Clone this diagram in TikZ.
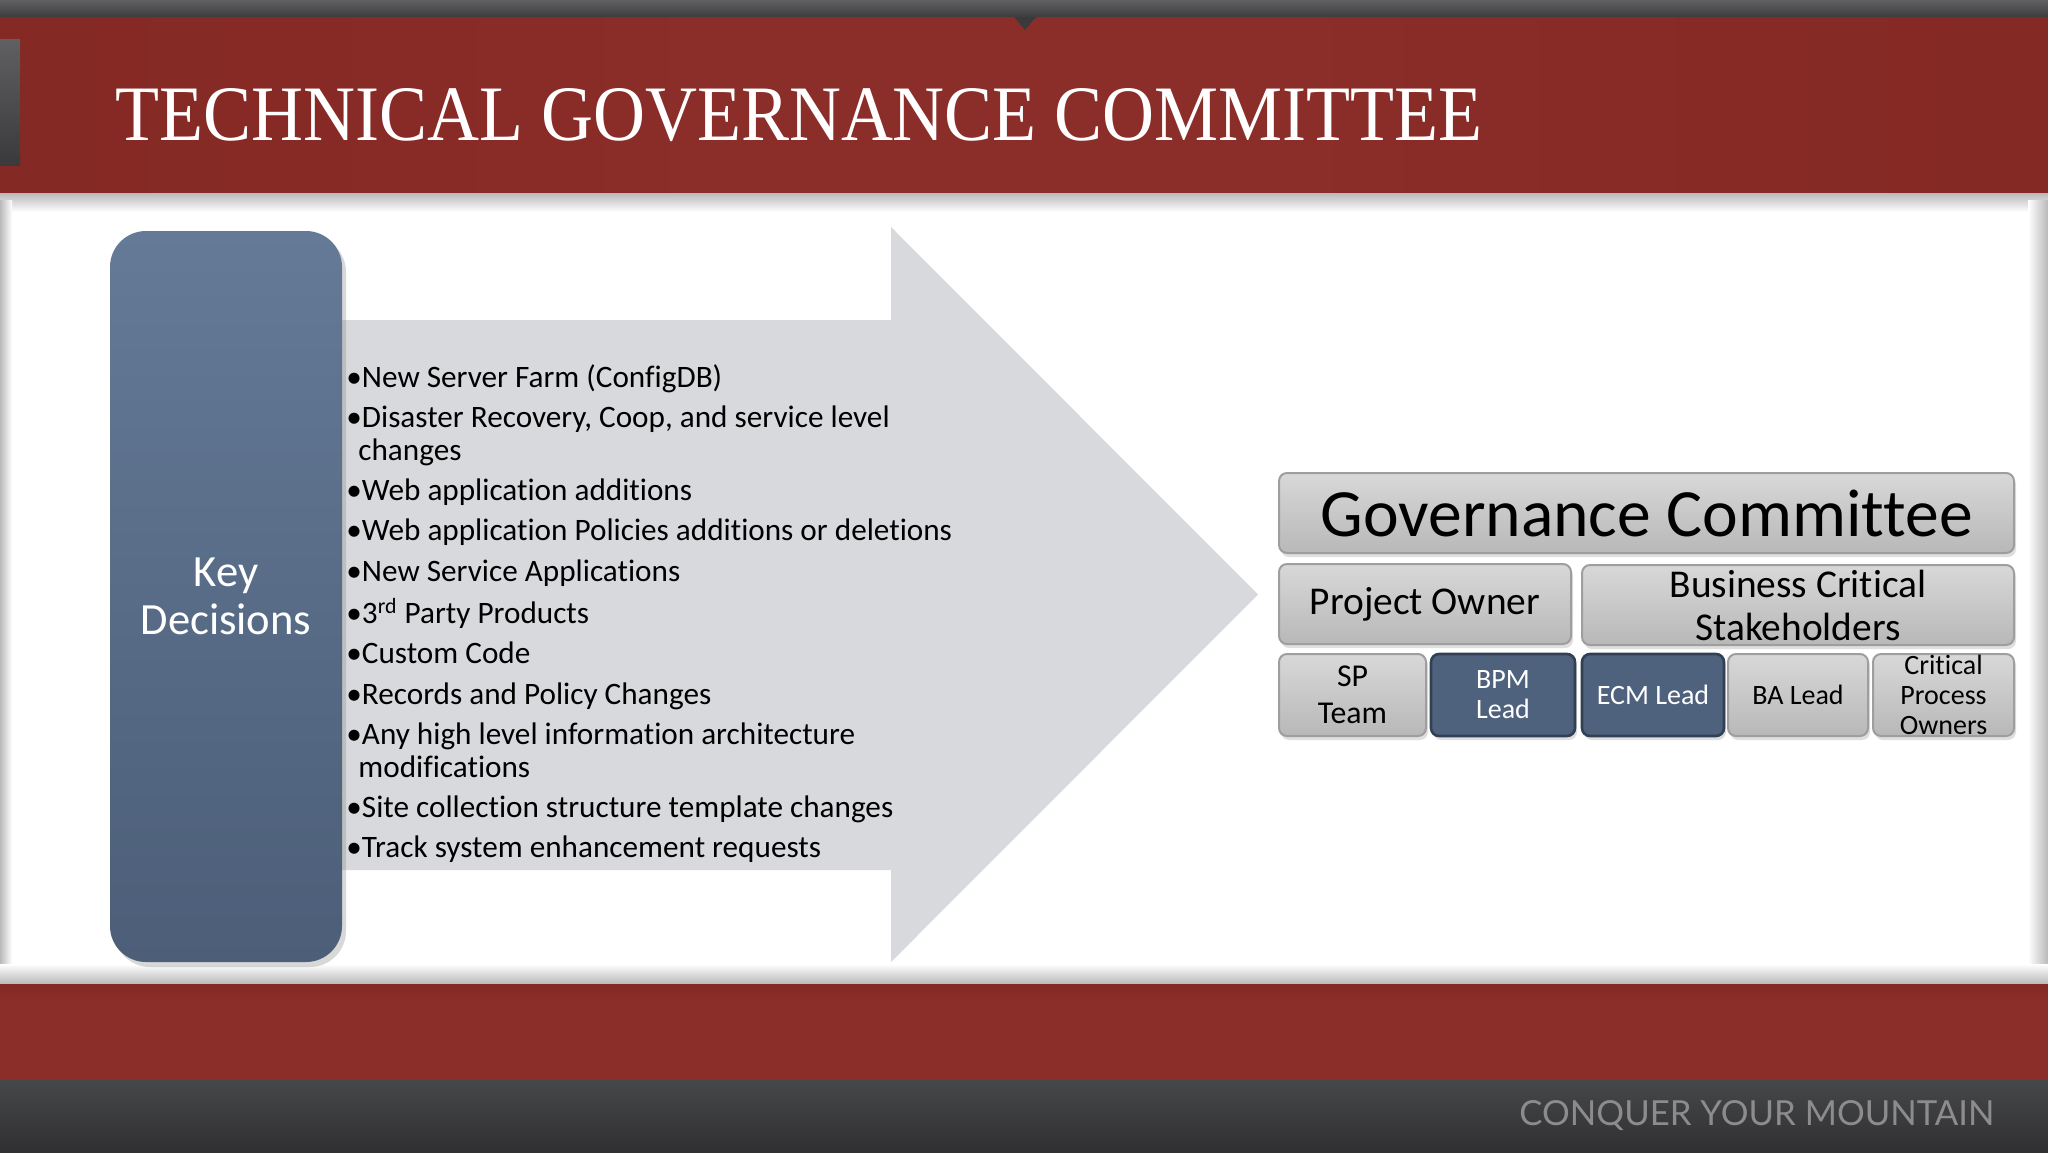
\documentclass[tikz,border=0pt]{standalone}
\usepackage{fontspec}
\setmainfont{Carlito}[Ligatures=NoCommon]
\newfontfamily\titlefont{Liberation Serif}
\newfontfamily\tagfont{Lato}
\usetikzlibrary{shadows}
\definecolor{redband}{RGB}{139,45,40}
\definecolor{reddark}{RGB}{128,38,34}
\definecolor{topgray}{RGB}{96,96,98}
\definecolor{topdark}{RGB}{58,58,60}
\definecolor{botgray1}{RGB}{70,71,73}
\definecolor{botgray2}{RGB}{48,48,50}
\definecolor{arrowgray}{RGB}{216,217,220}
\definecolor{kdtop}{RGB}{100,122,150}
\definecolor{kdbot}{RGB}{76,94,120}
\definecolor{gtop}{RGB}{216,216,216}
\definecolor{gbot}{RGB}{184,184,184}
\definecolor{gedge}{RGB}{158,158,158}
\definecolor{dfill}{RGB}{78,98,125}
\definecolor{dedge}{RGB}{50,64,84}
\definecolor{tagc}{RGB}{140,140,142}
\definecolor{edgeshade}{RGB}{185,185,187}
\begin{document}
\begin{tikzpicture}[x=0.5pt,y=-0.5pt,
  graybox/.style={draw=gedge, line width=1pt, rounded corners=4pt,
    top color=gtop, bottom color=gbot, inner sep=0pt, align=center, text=black,
    drop shadow={opacity=0.25, shadow xshift=1pt, shadow yshift=-2pt}},
  darkbox/.style={draw=dedge, line width=1.3pt, rounded corners=4pt,
    fill=dfill, inner sep=0pt, align=center, text=white,
    drop shadow={opacity=0.25, shadow xshift=1pt, shadow yshift=-2pt}},
  rowthree/.style={minimum width=#1, minimum height=41pt,
    font=\fontsize{14pt}{15pt}\selectfont},
  keybox/.style={rounded corners=18pt, top color=kdtop, bottom color=kdbot,
    text=white, align=center, inner sep=0pt,
    font=\fontsize{22.3pt}{24.25pt}\selectfont,
    drop shadow={opacity=0.3, shadow xshift=2pt, shadow yshift=-2.5pt}},
  listtext/.style={inner sep=0pt, text=black, font=\fontsize{15.6pt}{16.65pt}\selectfont}
]
\useasboundingbox (0,0) rectangle (2048,1152);
% background bands
\fill[botgray2] (0,0) rectangle (2048,1152);
\shade[top color=topgray, bottom color=topdark] (0,0) rectangle (2048,18);
\fill[redband] (0,17) rectangle (2048,194);
\shade[left color=reddark, right color=redband, opacity=0.5] (0,17) rectangle (700,194);
\shade[left color=redband, right color=reddark, opacity=0.5] (1300,17) rectangle (2048,194);
\fill[topdark] (1014,17) -- (1036,17) -- (1025,30) -- cycle;
\shade[top color=topgray, bottom color=topdark] (0,39) rectangle (20,165);
% content area
\fill[white] (0,193) rectangle (2048,984);
\shade[top color=edgeshade, bottom color=white] (0,193) rectangle (2048,212);
\shade[left color=edgeshade, right color=white] (0,200) rectangle (12,980);
\shade[left color=white, right color=edgeshade] (2028,200) rectangle (2048,980);
\shade[top color=white, bottom color=edgeshade] (0,964) rectangle (2048,984);
% bottom bands
\fill[redband] (0,984) rectangle (2048,1080);
\shade[top color=reddark, bottom color=redband, opacity=0.6] (0,984) rectangle (2048,1000);
\shade[top color=botgray1, bottom color=botgray2] (0,1080) rectangle (2048,1152);
% title and tag line
\node[anchor=base west, inner sep=0pt, text=white] (title) at (115,140)
  {\resizebox{683.5pt}{26pt}{\titlefont TECHNICAL GOVERNANCE COMMITTEE}};
\node[anchor=base west, inner sep=0pt, text=tagc] (tag) at (1519,1125)
  {\resizebox{237.5pt}{12.5pt}{\tagfont CONQUER YOUR MOUNTAIN}};
% big arrow
\fill[arrowgray] (300,320) -- (891,320) -- (891,227) -- (1258,594.5)
  -- (891,962) -- (891,870) -- (300,870) -- cycle;
% key decisions box
\node[keybox, minimum width=116pt, minimum height=365.5pt] (kd) at (226,596.5)
  {Key\\Decisions};
% bullet list
\node[listtext, anchor=base west] (keylist) at (346,387) {%
\begin{tabular}[t]{@{}l@{}}
•New Server Farm (ConfigDB)\\[3.45pt]
•Disaster Recovery, Coop, and service level\\
\hspace*{6pt}changes\\[3.45pt]
•Web application additions\\[3.45pt]
•Web application Policies additions or deletions\\[3.45pt]
•New Service Applications\\[3.45pt]
•3\textsuperscript{rd} Party Products\\[3.45pt]
•Custom Code\\[3.45pt]
•Records and Policy Changes\\[3.45pt]
•Any high level information architecture\\
\hspace*{6pt}modifications\\[3.45pt]
•Site collection structure template changes\\[3.45pt]
•Track system enhancement requests
\end{tabular}};
% governance structure
\node[graybox, minimum width=367.5pt, minimum height=40pt,
  font=\fontsize{33.8pt}{36pt}\selectfont] (gc) at (1646.5,513) {Governance Committee};
\node[graybox, minimum width=146pt, minimum height=40pt,
  font=\fontsize{19.7pt}{21.5pt}\selectfont] (po) at (1425,604) {Project Owner};
\node[graybox, minimum width=216pt, minimum height=40pt,
  font=\fontsize{19.7pt}{21.5pt}\selectfont] (bcs) at (1798,605) {Business Critical\\Stakeholders};
\node[graybox, rowthree=73.5pt, font=\fontsize{15.9pt}{18.5pt}\selectfont] (sp) at (1352.5,695) {SP\\Team};
\node[darkbox, rowthree=72pt] (bpm) at (1503,695) {BPM\\Lead};
\node[darkbox, rowthree=71pt] (ecm) at (1653,695) {ECM Lead};
\node[graybox, rowthree=70pt] (ba) at (1798,695) {BA Lead};
\node[graybox, rowthree=70.5pt] (cpo) at (1943.5,695) {Critical\\Process\\Owners};
\end{tikzpicture}
\end{document}
